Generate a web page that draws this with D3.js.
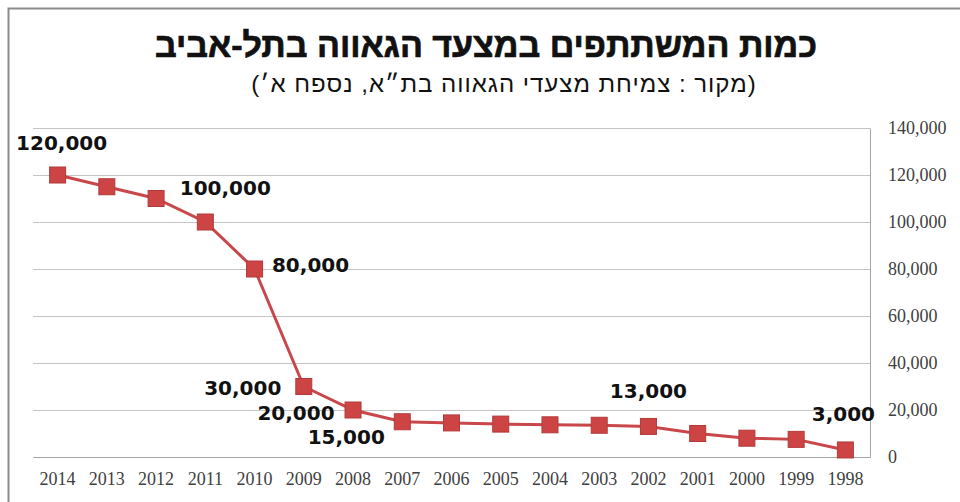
<!DOCTYPE html>
<html>
<head>
<meta charset="utf-8">
<script src="https://cdn.jsdelivr.net/npm/d3@7"></script>
<style>
  body { margin: 0; background: #fff; }
  .tick text { fill: #404040; }
</style>
</head>
<body>
<div id="chart-area"></div>
<script>
// values, 2014 on the left down to 1998 on the right
const years = ["2014", "2013", "2012", "2011", "2010", "2009", "2008", "2007", "2006",
    "2005", "2004", "2003", "2002", "2001", "2000", "1999", "1998"];
const participants = [120000, 115000, 110000, 100000, 80000, 30000, 20000, 15000, 14500,
    14000, 13700, 13500, 13000, 10000, 8000, 7500, 3000];
const yTicks = [0, 20000, 40000, 60000, 80000, 100000, 120000, 140000];
// which points carry a value label
const labelYears = ["2014", "2011", "2010", "2009", "2008", "2007", "2002", "1998"];
const labelText = ["120,000", "100,000", "80,000", "30,000", "20,000", "15,000", "13,000", "3,000"];

const title = "כמות המשתתפים במצעד הגאווה בתל-אביב";
const subtitle = "(מקור : צמיחת מצעדי הגאווה בת״א, נספח א׳)";

// label offsets from their point (dx, dy)
const labelShift = {
    "2014": [4, -32], "2011": [20, -34], "2010": [56, -4], "2009": [-61, 1],
    "2008": [-57, 3], "2007": [-56, 15], "2002": [0, -35], "1998": [-2, -36]
};

const svg = d3.select("#chart-area")
    .append("svg")
    .attr("width", 960)
    .attr("height", 502);

// outer frame (only top and left show)
svg.append("rect")
    .attr("x", 8.5).attr("y", 8.5)
    .attr("width", 960).attr("height", 500)
    .attr("fill", "none")
    .attr("stroke", "#8c8c8c")
    .attr("stroke-width", 2);

svg.append("text")
    .attr("x", 486).attr("y", 45)
    .attr("direction", "rtl")
    .attr("text-anchor", "middle")
    .attr("dominant-baseline", "central")
    .style("font-family", "'Liberation Sans', Arial, sans-serif")
    .style("font-weight", "bold")
    .style("font-size", "34px")
    .attr("fill", "#111")
    .attr("stroke", "#111")
    .attr("stroke-width", 0.7)
    .text(title);

svg.append("text")
    .attr("x", 504).attr("y", 83)
    .attr("direction", "rtl")
    .attr("text-anchor", "middle")
    .attr("dominant-baseline", "central")
    .style("font-family", "'Liberation Sans', Arial, sans-serif")
    .style("font-size", "24px")
    .style("letter-spacing", "1px")
    .attr("fill", "#111")
    .text(subtitle);

const plotLeft = 33, plotRight = 870, plotTop = 128, plotBottom = 457;

const x = d3.scaleBand()
    .domain(years)
    .range([plotLeft, plotRight]);

const y = d3.scaleLinear()
    .domain([0, 140000])
    .range([plotBottom, plotTop]);

const cx = d => x(d) + x.bandwidth() / 2;

// gridlines
svg.append("g")
    .attr("transform", `translate(${plotRight},0)`)
    .call(d3.axisRight(y).tickValues(yTicks).tickSize(-(plotRight - plotLeft)).tickFormat(""))
    .call(g => g.select(".domain").remove())
    .call(g => g.selectAll("line").attr("stroke", "#c4c4c4"));

// right axis
svg.append("g")
    .attr("transform", `translate(${plotRight},0)`)
    .call(d3.axisRight(y).tickValues(yTicks).tickSize(0).tickPadding(18).tickFormat(d3.format(",")))
    .call(g => g.select(".domain").attr("stroke", "#a6a6a6"))
    .selectAll("text")
    .style("font-family", "'Liberation Serif', serif")
    .style("font-size", "18px");

// bottom axis
svg.append("g")
    .attr("transform", `translate(0,${plotBottom})`)
    .call(d3.axisBottom(x).tickSize(0).tickPadding(15).tickSizeOuter(0))
    .call(g => g.select(".domain").attr("stroke", "#a6a6a6"))
    .selectAll("text")
    .style("font-family", "'Liberation Serif', serif")
    .style("font-size", "18px");

const line = d3.line()
    .x((d, i) => cx(years[i]))
    .y(d => y(d));

svg.append("path")
    .datum(participants)
    .attr("d", line)
    .attr("fill", "none")
    .attr("stroke", "#c9474a")
    .attr("stroke-width", 3);

svg.selectAll("rect.marker")
    .data(participants)
    .enter().append("rect")
    .attr("class", "marker")
    .attr("x", (d, i) => cx(years[i]) - 8)
    .attr("y", d => y(d) - 8)
    .attr("width", 16)
    .attr("height", 16)
    .attr("fill", "#cc4444")
    .attr("stroke", "#b33a3a")
    .attr("stroke-width", 1);

svg.selectAll("text.value")
    .data(labelYears)
    .enter().append("text")
    .attr("class", "value")
    .attr("x", d => cx(d) + labelShift[d][0])
    .attr("y", d => y(participants[years.indexOf(d)]) + labelShift[d][1])
    .attr("text-anchor", "middle")
    .attr("dominant-baseline", "central")
    .style("font-family", "'DejaVu Sans', Verdana, sans-serif")
    .style("font-weight", "bold")
    .style("font-size", "20px")
    .attr("fill", "#111")
    .text((d, i) => labelText[i]);
</script>
</body>
</html>
